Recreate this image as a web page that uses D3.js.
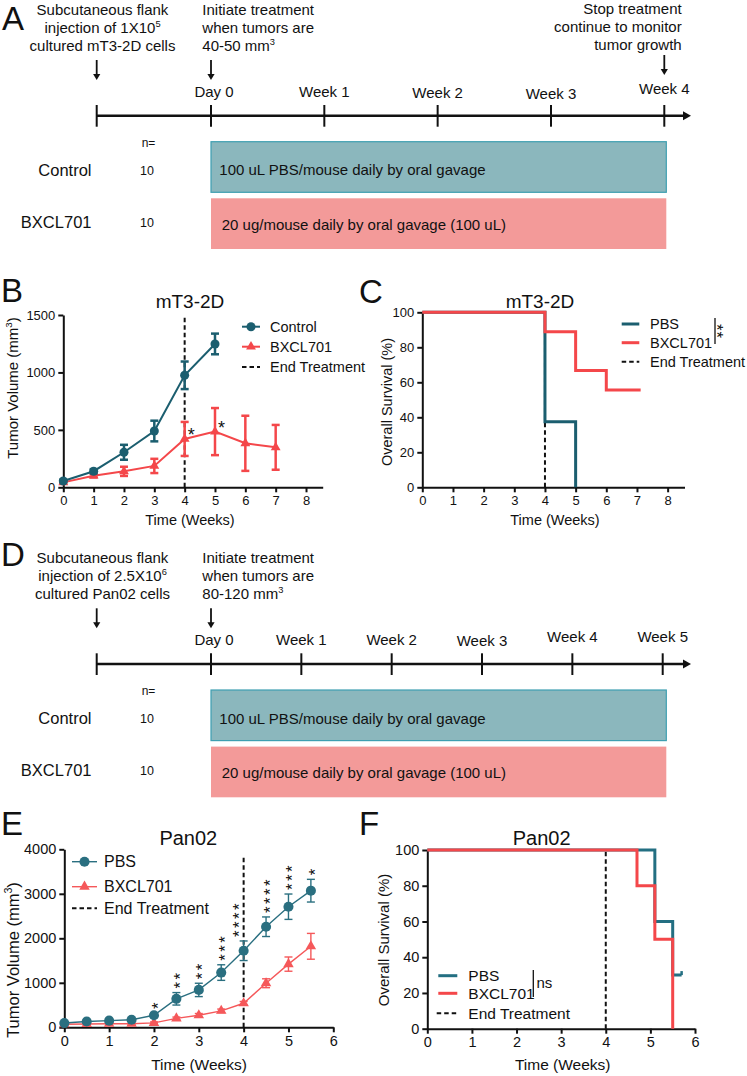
<!DOCTYPE html>
<html><head><meta charset="utf-8">
<script src="https://cdn.jsdelivr.net/npm/d3@7"></script>
<style>
body{margin:0;background:#fff;}
svg{display:block;}
</style></head><body>
<svg id="fig" width="747" height="1076"></svg>
<script>
// ---------------- DATA ----------------
const timelineLabelsA = ["Day 0","Week 1","Week 2","Week 3","Week 4"];
const timelineLabelsD = ["Day 0","Week 1","Week 2","Week 3","Week 4","Week 5"];
const groupNames = ["Control","BXCL701"];
const groupN = ["10","10"];
const regimens = ["100 uL PBS/mouse daily by oral gavage","20 ug/mouse daily by oral gavage (100 uL)"];

// Panel B: mT3-2D tumor volume
const weeksB = [0,1,2,3,4,5,6,7];
const controlB = [55,140,305,490,975,1248];
const controlBErr = [12,18,65,90,120,90];
const bxclB = [43,101,139,186,421,485,383,348];
const bxclBErr = [10,15,40,62,148,205,240,195];
const sigBWeeks = [4,5];
const sigBLabels = ["*","*"];

// Panel C: mT3-2D survival
const survPbsCTime = [0,4,5];
const survPbsCVal = [100,37.5,0];
const survBxCTime = [0,4,5,6,7.12];
const survBxCVal = [100,88.9,66.7,55.6,55.6];

// Panel E: Pan02 tumor volume
const weeksE = [0,0.5,1,1.5,2,2.5,3,3.5,4,4.5,5,5.5];
const pbsE = [95,130,150,170,270,640,840,1230,1720,2260,2710,3070];
const pbsEErr = [20,25,25,30,50,140,150,175,220,220,285,255];
const bxclE = [70,75,80,80,100,200,270,370,540,990,1420,1820];
const bxclEErr = [15,15,15,15,20,30,40,40,40,100,160,290];
const sigEWeeks = [2,2.5,3,3.5,4,4.5,5,5.5];
const sigEStars = ["*","**","**","***","****","****","***","*"];

// Panel F: Pan02 survival
const survPbsFTime = [0,5.1,5.5,5.7];
const survPbsFVal = [100,60,30,30];
const survBxFTime = [0,4.7,5.1,5.5];
const survBxFVal = [100,80,50,0];
const endTreatmentWeek = 4;

// ---------------- STYLE ----------------
const FONT = "'Liberation Sans', Arial, Helvetica, sans-serif";
const TEAL = "#1b5e6f", RED = "#f4474a";
const TEAL_E = "#2a6f80", RED_E = "#f5585a";
const BOX_C = "#8bb7bd", BOX_C_STROKE = "#3e9fb1", BOX_R = "#f39a99";

const svg = d3.select("#fig").attr("font-family", FONT);

function txt(x, y, s, fs, anchor) {
  return svg.append("text").attr("x", x).attr("y", y).attr("font-size", fs)
    .attr("text-anchor", anchor || "start").attr("fill", "#111").text(s);
}
function supTxt(x, y, base, sup, tail, fs, anchor) {
  const t = svg.append("text").attr("x", x).attr("y", y).attr("font-size", fs)
    .attr("text-anchor", anchor || "start").attr("fill", "#111");
  t.append("tspan").text(base);
  t.append("tspan").attr("dy", -fs*0.38).attr("font-size", fs*0.62).text(sup);
  if (tail) t.append("tspan").attr("dy", fs*0.38).text(tail);
  return t;
}
function arrowDown(x, y1, y2) {
  svg.append("line").attr("x1", x).attr("x2", x).attr("y1", y1).attr("y2", y2 - 5)
    .attr("stroke", "#111").attr("stroke-width", 1.8);
  svg.append("path").attr("d", `M${x-3.6},${y2-6}L${x+3.6},${y2-6}L${x},${y2}Z`).attr("fill", "#111");
}

// panel letters
[["A",2,30],["B",1,302],["C",359,303],["D",1,566],["E",1,835],["F",359,835]].forEach(d =>
  txt(d[1], d[2], d[0], 33, "start"));

// ---------------- PROTOCOL PANELS (A, D) ----------------
function protocol(y0, labels, leftLines, midLines, rightLines, labelDy) {
  const x = d3.scaleLinear().domain([0, labels.length - 1]).range([211, labels.length === 5 ? 664.3 : 662.7]);
  const injectX = 96.7, axisY = y0 + 115.7;
  leftLines.forEach((l, i) => {
    const y = y0 + 14.7 + i * 17.9;
    if (l.length === 1) txt(102.5, y, l[0], 15, "middle");
    else supTxt(102.5, y, l[0], l[1], null, 15, "middle");
  });
  midLines.forEach((l, i) => {
    const y = y0 + 14.7 + i * 17.9;
    if (l.length === 1) txt(202.3, y, l[0], 15, "start");
    else supTxt(202.3, y, l[0], l[1], null, 15, "start");
  });
  rightLines.forEach((l, i) => txt(681.7, y0 + 14 + i * 17.9, l, 15, "end"));
  arrowDown(injectX, y0 + 60, y0 + 80);
  arrowDown(x(0), y0 + 60, y0 + 80);
  if (rightLines.length) arrowDown(x(labels.length - 1), y0 + 55, y0 + 75);
  svg.append("line").attr("x1", injectX).attr("x2", 684).attr("y1", axisY).attr("y2", axisY)
    .attr("stroke", "#111").attr("stroke-width", 2.6);
  svg.append("path").attr("d", `M683,${axisY-4.5}L691,${axisY}L683,${axisY+4.5}Z`).attr("fill", "#111");
  const ticks = [injectX].concat(labels.map((d, i) => x(i)));
  svg.selectAll(null).data(ticks).enter().append("line")
    .attr("x1", d => d).attr("x2", d => d).attr("y1", axisY - 10.7).attr("y2", axisY + 11)
    .attr("stroke", "#111").attr("stroke-width", 2);
  labels.forEach((l, i) => txt(x(i) + (i === 0 ? 3 : 0), y0 + 97 + labelDy[i], l, 15, "middle"));
  txt(141.7, y0 + 146.5, "n=", 12, "start");
  const boxTop = [y0 + 141.7, y0 + 198.3], boxH = [50.6, 50.7];
  groupNames.forEach((g, i) => {
    const cy = i === 0 ? y0 + 170 : y0 + 222;
    txt(91.5, cy + 6, g, 16.5, "end");
    txt(140, cy + 4.5, groupN[i], 12.5, "start");
    svg.append("rect").attr("x", x(0)).attr("y", boxTop[i]).attr("width", 666.3 - x(0)).attr("height", boxH[i])
      .attr("fill", i === 0 ? BOX_C : BOX_R)
      .attr("stroke", i === 0 ? BOX_C_STROKE : "none").attr("stroke-width", 1.2);
    txt(i === 0 ? 219.3 : 221.7, (i === 0 ? y0 + 170 : y0 + 224.5) + 5.4, regimens[i], 15, "start");
  });
}
protocol(0, timelineLabelsA,
  [["Subcutaneous flank"],["injection of 1X10","5"],["cultured mT3-2D cells"]],
  [["Initiate treatment"],["when tumors are"],["40-50 mm","3"]],
  ["Stop treatment","continue to monitor","tumor growth"],
  [0,0,0.6,1.6,-2.7]);
protocol(548.3, timelineLabelsD,
  [["Subcutaneous flank"],["injection of 2.5X10","6"],["cultured Pan02 cells"]],
  [["Initiate treatment"],["when tumors are"],["80-120 mm","3"]],
  [],
  [0,0,0,1,-3.3,-3.3]);

// ---------------- AXIS HELPERS ----------------
function styleAxis(g, fs) {
  g.attr("font-family", FONT);
  g.select(".domain").attr("stroke", "#111").attr("stroke-width", 2);
  g.selectAll(".tick line").attr("stroke", "#111").attr("stroke-width", 2);
  g.selectAll(".tick text").attr("fill", "#111").attr("font-size", fs);
}
function axes(x, y, xticks, yticks, fs) {
  const gx = svg.append("g").attr("transform", `translate(0,${y.range()[0]})`)
    .call(d3.axisBottom(x).tickValues(xticks).tickSize(5).tickSizeOuter(0).tickFormat(d3.format("d")));
  styleAxis(gx, fs);
  const gy = svg.append("g").attr("transform", `translate(${x.range()[0]},0)`)
    .call(d3.axisLeft(y).tickValues(yticks).tickSize(5).tickSizeOuter(0).tickFormat(d3.format("d")));
  styleAxis(gy, fs);
}
function yLabel(cx, cy, fs, parts) {
  const t = svg.append("text").attr("transform", `translate(${cx},${cy}) rotate(-90)`)
    .attr("text-anchor", "middle").attr("font-size", fs).attr("fill", "#111").attr("dy", "0.35em");
  t.append("tspan").text(parts[0]);
  if (parts[1]) {
    t.append("tspan").attr("dy", -fs*0.4).attr("font-size", fs*0.65).text(parts[1]);
    t.append("tspan").attr("dy", fs*0.4).text(parts[2]);
  }
}
function dashedV(x, y, xv, v0, v1) {
  svg.append("line").attr("x1", x(xv)).attr("x2", x(xv)).attr("y1", y(v0)).attr("y2", y(v1))
    .attr("stroke", "#111").attr("stroke-width", 2).attr("stroke-dasharray", "4.5,3");
}
function errorBars(x, y, ts, vs, es, color, w, cap) {
  ts.forEach((t, i) => {
    if (i >= vs.length) return;
    const xx = x(t), y1 = y(vs[i] + es[i]), y2 = y(Math.max(0, vs[i] - es[i]));
    svg.append("line").attr("x1", xx).attr("x2", xx).attr("y1", y1).attr("y2", y2).attr("stroke", color).attr("stroke-width", w);
    [y1, y2].forEach(yy => svg.append("line").attr("x1", xx - cap).attr("x2", xx + cap).attr("y1", yy).attr("y2", yy)
      .attr("stroke", color).attr("stroke-width", w));
  });
}
function legendItem(x1, x2, y, color, w, marker, label, tx, fs, dashed) {
  svg.append("line").attr("x1", x1).attr("x2", x2).attr("y1", y).attr("y2", y)
    .attr("stroke", color).attr("stroke-width", w).attr("stroke-dasharray", dashed ? "4.5,3" : null);
  if (marker) svg.append("path").attr("d", marker).attr("transform", `translate(${(x1+x2)/2},${y})`).attr("fill", color);
  txt(tx, y + fs * 0.36, label, fs, "start");
}

// ---------------- PANEL B ----------------
{
  const x = d3.scaleLinear().domain([0, 8.55]).range([63.3, 322.7]);
  const y = d3.scaleLinear().domain([0, 1500]).range([487.3, 315]);
  axes(x, y, d3.range(0, 9), [0, 500, 1000, 1500], 13);
  dashedV(x, y, endTreatmentWeek, 0, 1500);
  const circ = d3.symbol(d3.symbolCircle, 64)(), tri = d3.symbol(d3.symbolTriangle, 42)();
  const cData = controlB.map((v, i) => [weeksB[i], v]);
  const bData = bxclB.map((v, i) => [weeksB[i], v]);
  const line = d3.line().x(d => x(d[0])).y(d => y(d[1]));
  svg.append("path").attr("d", line(bData)).attr("fill", "none").attr("stroke", RED).attr("stroke-width", 2);
  errorBars(x, y, weeksB, bxclB, bxclBErr, RED, 2.5, 4);
  svg.selectAll(null).data(bData).enter().append("path").attr("d", tri)
    .attr("transform", d => `translate(${x(d[0])},${y(d[1])})`).attr("fill", RED);
  svg.append("path").attr("d", line(cData)).attr("fill", "none").attr("stroke", TEAL).attr("stroke-width", 2);
  errorBars(x, y, weeksB, controlB, controlBErr, TEAL, 2.5, 4);
  svg.selectAll(null).data(cData).enter().append("path").attr("d", circ)
    .attr("transform", d => `translate(${x(d[0])},${y(d[1])})`).attr("fill", TEAL);
  sigBWeeks.forEach((w, i) => {
    const v = bxclB[weeksB.indexOf(w)];
    txt(x(w) + 6.5, y(v) + 2, sigBLabels[i], 18, "middle");
  });
  txt(190, 308, "mT3-2D", 19, "middle");
  yLabel(13, 388, 15, ["Tumor Volume (mm", "3", ")"]);
  txt(190, 525, "Time (Weeks)", 14.5, "middle");
  legendItem(242, 260, 326.7, TEAL, 2, circ, "Control", 270, 14.5);
  legendItem(242, 260, 346.7, RED, 2, tri, "BXCL701", 270, 14.5);
  legendItem(242, 260, 367, "#111", 2, null, "End Treatment", 270, 14.5, true);
}

// ---------------- PANEL C ----------------
{
  const x = d3.scaleLinear().domain([0, 8.55]).range([422.3, 684.5]);
  const y = d3.scaleLinear().domain([0, 100]).range([487.3, 312.3]);
  axes(x, y, d3.range(0, 9), d3.range(0, 101, 20), 13);
  dashedV(x, y, endTreatmentWeek, 0, 100);
  const step = d3.line().curve(d3.curveStepAfter).x(d => x(d[0])).y(d => y(d[1]));
  svg.append("path").attr("d", step(survPbsCTime.map((t, i) => [t, survPbsCVal[i]])))
    .attr("fill", "none").attr("stroke", TEAL).attr("stroke-width", 3);
  svg.append("path").attr("d", step(survBxCTime.map((t, i) => [t, survBxCVal[i]])))
    .attr("fill", "none").attr("stroke", RED).attr("stroke-width", 3);
  txt(540, 308, "mT3-2D", 19, "middle");
  yLabel(387, 402, 14.5, ["Overall Survival (%)"]);
  txt(555, 525, "Time (Weeks)", 14.5, "middle");
  legendItem(621.7, 639.3, 324, TEAL, 3, null, "PBS", 650, 14.5);
  legendItem(621.7, 639.3, 342.7, RED, 3, null, "BXCL701", 650, 14.5);
  legendItem(621.7, 639.3, 361.7, "#111", 2, null, "End Treatment", 650, 14.5, true);
  svg.append("line").attr("x1", 715).attr("x2", 715).attr("y1", 318).attr("y2", 344).attr("stroke", "#111").attr("stroke-width", 1.3);
  svg.append("text").attr("transform", "translate(711,331.5) rotate(90)").attr("text-anchor", "middle")
    .attr("font-size", 17).attr("letter-spacing", 1).attr("fill", "#111").text("**");
}

// ---------------- PANEL E ----------------
{
  const x = d3.scaleLinear().domain([0, 6]).range([64.3, 333.3]);
  const y = d3.scaleLinear().domain([0, 4000]).range([1027.3, 849.3]);
  axes(x, y, d3.range(0, 7), d3.range(0, 4001, 1000), 14.5);
  dashedV(x, y, endTreatmentWeek, 0, 3870);
  const circ = d3.symbol(d3.symbolCircle, 80)(), tri = d3.symbol(d3.symbolTriangle, 48)();
  const pData = pbsE.map((v, i) => [weeksE[i], v]);
  const bData = bxclE.map((v, i) => [weeksE[i], v]);
  const line = d3.line().x(d => x(d[0])).y(d => y(d[1]));
  svg.append("path").attr("d", line(bData)).attr("fill", "none").attr("stroke", RED_E).attr("stroke-width", 1.4);
  errorBars(x, y, weeksE, bxclE, bxclEErr, RED_E, 1.4, 4);
  svg.selectAll(null).data(bData).enter().append("path").attr("d", tri)
    .attr("transform", d => `translate(${x(d[0])},${y(d[1])})`).attr("fill", RED_E);
  svg.append("path").attr("d", line(pData)).attr("fill", "none").attr("stroke", TEAL_E).attr("stroke-width", 1.4);
  errorBars(x, y, weeksE, pbsE, pbsEErr, TEAL_E, 1.4, 4);
  svg.selectAll(null).data(pData).enter().append("path").attr("d", circ)
    .attr("transform", d => `translate(${x(d[0])},${y(d[1])})`).attr("fill", TEAL_E);
  const sfs = 17;
  sigEWeeks.forEach((w, i) => {
    const k = weeksE.indexOf(w);
    const bottom = y(pbsE[k] + pbsEErr[k]) - 4;
    const cx = x(w) + (w === 4 ? -8 : 0);
    svg.append("text").attr("transform", `translate(${cx + 0.57 * sfs},${bottom}) rotate(-90)`)
      .attr("text-anchor", "start").attr("font-size", sfs).attr("letter-spacing", 2.4)
      .attr("fill", "#111").text(sigEStars[i]);
  });
  txt(188.3, 845, "Pan02", 20, "middle");
  yLabel(13, 960, 16.5, ["Tumor Volume (mm", "3", ")"]);
  txt(199, 1070, "Time (Weeks)", 15.5, "middle");
  legendItem(72, 97, 861.7, TEAL_E, 1.4, circ, "PBS", 104, 16);
  legendItem(72, 97, 886.7, RED_E, 1.4, tri, "BXCL701", 104, 16);
  legendItem(72, 97, 908.3, "#111", 2, null, "End Treatment", 104, 16, true);
}

// ---------------- PANEL F ----------------
{
  const x = d3.scaleLinear().domain([0, 6]).range([427.3, 695]);
  const y = d3.scaleLinear().domain([0, 100]).range([1028.7, 850]);
  axes(x, y, d3.range(0, 7), d3.range(0, 101, 20), 14.5);
  dashedV(x, y, endTreatmentWeek, 0, 100);
  const step = d3.line().curve(d3.curveStepAfter).x(d => x(d[0])).y(d => y(d[1]));
  svg.append("path").attr("d", step(survPbsFTime.map((t, i) => [t, survPbsFVal[i]])))
    .attr("fill", "none").attr("stroke", "#236f82").attr("stroke-width", 3);
  const lastT = survPbsFTime[survPbsFTime.length - 1], lastV = survPbsFVal[survPbsFVal.length - 1];
  svg.append("line").attr("x1", x(lastT)).attr("x2", x(lastT)).attr("y1", y(lastV)).attr("y2", y(lastV) - 4)
    .attr("stroke", "#236f82").attr("stroke-width", 2.5);
  svg.append("path").attr("d", step(survBxFTime.map((t, i) => [t, survBxFVal[i]])))
    .attr("fill", "none").attr("stroke", RED).attr("stroke-width", 3);
  txt(541.7, 845, "Pan02", 20, "middle");
  yLabel(384, 940, 15, ["Overall Survival (%)"]);
  txt(562.7, 1070, "Time (Weeks)", 15.5, "middle");
  legendItem(438.3, 457.3, 975.7, "#236f82", 3, null, "PBS", 468.3, 15.5);
  legendItem(438.3, 457.3, 993.3, RED, 3, null, "BXCL701", 468.3, 15.5);
  legendItem(436.7, 458.3, 1013.3, "#111", 2, null, "End Treatment", 468.3, 15.5, true);
  svg.append("line").attr("x1", 533.3).attr("x2", 533.3).attr("y1", 970).attr("y2", 997).attr("stroke", "#111").attr("stroke-width", 1.3);
  txt(536.5, 988, "ns", 15, "start");
}
</script>
</body></html>
